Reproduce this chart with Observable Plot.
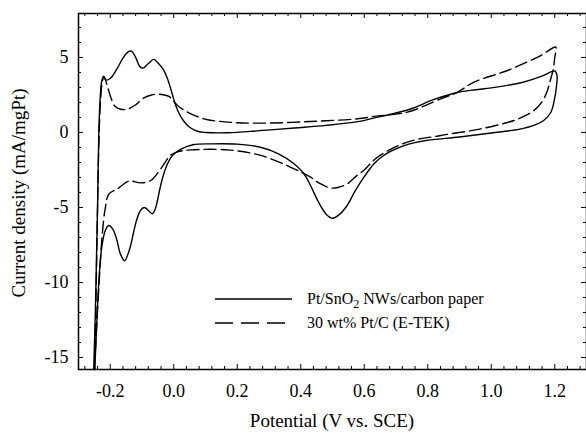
<!DOCTYPE html>
<html>
<head>
<meta charset="utf-8">
<script src="https://cdn.jsdelivr.net/npm/d3@7"></script>
<script src="https://cdn.jsdelivr.net/npm/@observablehq/plot@0.6"></script>
<style>
  html, body { margin: 0; padding: 0; background: #fff; }
  #chart { width: 586px; height: 433px; }
  svg { overflow: visible; }
</style>
</head>
<body>
<div id="chart"></div>
<script>
// ---- Data ----
// Pt/SnO2 NWs/carbon paper (solid), ordered along the cyclic scan
const solidPotential = [
  -0.252, -0.247, -0.243, -0.240, -0.236, -0.232, -0.227, -0.221, -0.214, -0.200,
  -0.180, -0.160, -0.145, -0.133, -0.120, -0.107, -0.097, -0.080, -0.063, -0.048,
  -0.033, -0.020, -0.008, 0.003, 0.015, 0.030, 0.050, 0.075, 0.100, 0.170,
  0.270, 0.380, 0.480, 0.580, 0.630, 0.700, 0.750, 0.820, 0.890, 0.950,
  1.000, 1.100, 1.155, 1.190, 1.200, 1.207, 1.205, 1.200, 1.188, 1.165,
  1.140, 1.090, 1.000, 0.900, 0.790, 0.740, 0.700, 0.660, 0.630, 0.600,
  0.570, 0.545, 0.520, 0.500, 0.480, 0.455, 0.430, 0.410, 0.380, 0.330,
  0.270, 0.200, 0.120, 0.060, 0.020, -0.005, -0.020, -0.032, -0.042, -0.052,
  -0.060, -0.068, -0.080, -0.092, -0.103, -0.115, -0.127, -0.138, -0.155, -0.168,
  -0.180, -0.192, -0.204, -0.215, -0.225, -0.231, -0.237, -0.241, -0.245, -0.249
];
const solidCurrent = [
  -15.8, -12.0, -8.0, -5.0, 0.0, 2.2, 3.4, 3.75, 3.5, 3.6,
  4.2, 4.95, 5.35, 5.42, 5.0, 4.4, 4.29, 4.6, 4.87, 4.6,
  4.2, 3.6, 2.8, 2.0, 1.35, 0.8, 0.35, 0.08, 0.0, -0.02,
  0.12, 0.3, 0.47, 0.72, 0.96, 1.3, 1.6, 2.2, 2.65, 2.85,
  2.97, 3.35, 3.72, 4.05, 4.1, 3.8, 3.0, 2.3, 1.35, 0.8,
  0.52, 0.22, -0.04, -0.3, -0.55, -0.78, -1.1, -1.55, -2.1, -2.95,
  -3.95, -4.9, -5.5, -5.72, -5.45, -4.6, -3.5, -2.75, -2.1, -1.42,
  -0.97, -0.78, -0.76, -0.82, -1.15, -1.55, -2.1, -2.8, -3.6, -4.6,
  -5.2, -5.42, -5.2, -5.0, -5.15, -5.7, -6.7, -7.7, -8.55, -8.1,
  -7.1, -6.45, -6.2, -6.5, -7.4, -8.5, -10.3, -12.0, -14.0, -15.8
];
// 30 wt% Pt/C (E-TEK) (dashed), ordered along the cyclic scan
const dashPotential = [
  -0.249, -0.244, -0.240, -0.235, -0.230, -0.224, -0.219, -0.212, -0.205, -0.196,
  -0.185, -0.167, -0.146, -0.120, -0.094, -0.070, -0.050, -0.030, -0.015, -0.005,
  0.012, 0.043, 0.095, 0.169, 0.274, 0.430, 0.578, 0.631, 0.736, 0.841,
  0.894, 0.946, 1.051, 1.156, 1.203, 1.200, 1.195, 1.185, 1.177, 1.160,
  1.135, 1.100, 1.072, 0.967, 0.841, 0.736, 0.642, 0.600, 0.578, 0.547,
  0.520, 0.494, 0.460, 0.431, 0.379, 0.274, 0.169, 0.054, 0.020, -0.009,
  -0.041, -0.072, -0.104, -0.141, -0.177, -0.204, -0.216, -0.226, -0.235, -0.243,
  -0.250
];
const dashCurrent = [
  -15.8, -10.0, -5.0, 0.0, 2.3, 3.5, 3.7, 3.3, 2.8, 2.2,
  1.75, 1.55, 1.55, 1.85, 2.3, 2.5, 2.55, 2.5, 2.4, 2.2,
  1.8, 1.36, 0.91, 0.69, 0.62, 0.73, 0.91, 1.07, 1.36, 2.24,
  2.69, 3.36, 4.13, 5.13, 5.69, 5.0, 4.2, 3.4, 2.8, 2.05,
  1.47, 1.05, 0.8, 0.24, -0.2, -0.64, -1.64, -2.5, -2.85, -3.42,
  -3.65, -3.7, -3.4, -2.98, -2.42, -1.53, -1.16, -1.16, -1.25, -1.5,
  -2.42, -3.2, -3.36, -3.24, -3.76, -4.09, -5.09, -7.0, -10.0, -13.0,
  -15.8
];
const xTickValues = [-0.2, 0.0, 0.2, 0.4, 0.6, 0.8, 1.0, 1.2];
const yTickValues = [-15, -10, -5, 0, 5];
const seriesNames = ["Pt/SnO2 NWs/carbon paper", "30 wt% Pt/C (E-TEK)"];
const xTitle = "Potential (V vs. SCE)";
const yTitle = "Current density (mA/mgPt)";

// ---- Build ----
const solid = solidPotential.map((x, i) => ({x, y: solidCurrent[i]}));
const dashed = dashPotential.map((x, i) => ({x, y: dashCurrent[i]}));

const xDomain = [-0.3, 1.3];
const yDomain = [-15.8, 7.93];
const xMinor = d3.range(-7, 33).map(i => +(i * 0.04).toFixed(2))
  .filter(v => Math.abs(v / 0.2 - Math.round(v / 0.2)) > 1e-6);
const xMajor = d3.range(-1, 7).map(i => +(i * 0.2).toFixed(1));
const yMinor = d3.range(-15, 8).filter(v => v % 5 !== 0);
const yMajor = d3.range(-15, 8).filter(v => v % 5 === 0);

const font = "'Liberation Serif', 'Times New Roman', serif";
const MAJ = 5, MIN = 3;

const plot = Plot.plot({
  width: 586,
  height: 433,
  marginLeft: 78,
  marginRight: 0,
  marginTop: 13,
  marginBottom: 64,
  style: {fontFamily: font, fontSize: "18px", color: "black", background: "white", overflow: "visible"},
  x: {domain: xDomain},
  y: {domain: yDomain},
  marks: [
    // inward ticks: bottom / top
    Plot.ruleX(xMajor, {x: d => d, y1: yDomain[0], y2: yDomain[0], insetBottom: MAJ, stroke: "black"}),
    Plot.ruleX(xMinor, {x: d => d, y1: yDomain[0], y2: yDomain[0], insetBottom: MIN, stroke: "black"}),
    Plot.ruleX(xMajor, {x: d => d, y1: yDomain[1], y2: yDomain[1], insetTop: MAJ, stroke: "black"}),
    Plot.ruleX(xMinor, {x: d => d, y1: yDomain[1], y2: yDomain[1], insetTop: MIN, stroke: "black"}),
    // inward ticks: left / right
    Plot.ruleY(yMajor, {y: d => d, x1: xDomain[0], x2: xDomain[0], insetLeft: MAJ, stroke: "black"}),
    Plot.ruleY(yMinor, {y: d => d, x1: xDomain[0], x2: xDomain[0], insetLeft: MIN, stroke: "black"}),
    Plot.ruleY(yMajor, {y: d => d, x1: xDomain[1], x2: xDomain[1], insetRight: MAJ, stroke: "black"}),
    Plot.ruleY(yMinor, {y: d => d, x1: xDomain[1], x2: xDomain[1], insetRight: MIN, stroke: "black"}),
    Plot.axisX(xTickValues, {tickSize: 0, tickPadding: 15, tickFormat: d => d.toFixed(1), label: null, fontSize: 18}),
    Plot.axisY(yTickValues, {tickSize: 0, tickPadding: 10, tickFormat: d => String(d), label: null, fontSize: 18}),
    Plot.line(dashed, {x: "x", y: "y", curve: "catmull-rom", stroke: "black", strokeWidth: 1.4, strokeDasharray: "12,5"}),
    Plot.line(solid, {x: "x", y: "y", curve: "catmull-rom", stroke: "black", strokeWidth: 1.4}),
    Plot.frame({stroke: "black", strokeWidth: 1.5})
  ]
});

const svg = d3.select(plot);
// Axis titles
svg.append("text")
  .attr("x", 332).attr("y", 427)
  .attr("text-anchor", "middle")
  .attr("font-family", font).attr("font-size", 19).attr("fill", "black")
  .text(xTitle);
svg.append("text")
  .attr("transform", "translate(25,193) rotate(-90)")
  .attr("text-anchor", "middle")
  .attr("font-family", font).attr("font-size", 19).attr("fill", "black")
  .text(yTitle);

// Legend
const lg = svg.append("g").attr("text-anchor", "start");
lg.append("line").attr("x1", 215).attr("x2", 292).attr("y1", 299).attr("y2", 299)
  .attr("stroke", "black").attr("stroke-width", 1.4);
lg.append("line").attr("x1", 215).attr("x2", 287).attr("y1", 323).attr("y2", 323)
  .attr("stroke", "black").attr("stroke-width", 1.4).attr("stroke-dasharray", "18,8");
const t1 = lg.append("text").attr("x", 307).attr("y", 304).attr("text-anchor", "start")
  .attr("font-family", font).attr("font-size", 16).attr("fill", "black");
t1.append("tspan").text("Pt/SnO");
t1.append("tspan").attr("font-size", 12).attr("dy", 4).text("2");
t1.append("tspan").attr("dy", -4).text(" NWs/carbon paper");
lg.append("text").attr("x", 307).attr("y", 328).attr("text-anchor", "start")
  .attr("font-family", font).attr("font-size", 16).attr("fill", "black")
  .text(seriesNames[1]);

document.getElementById("chart").appendChild(plot);
</script>
</body>
</html>
